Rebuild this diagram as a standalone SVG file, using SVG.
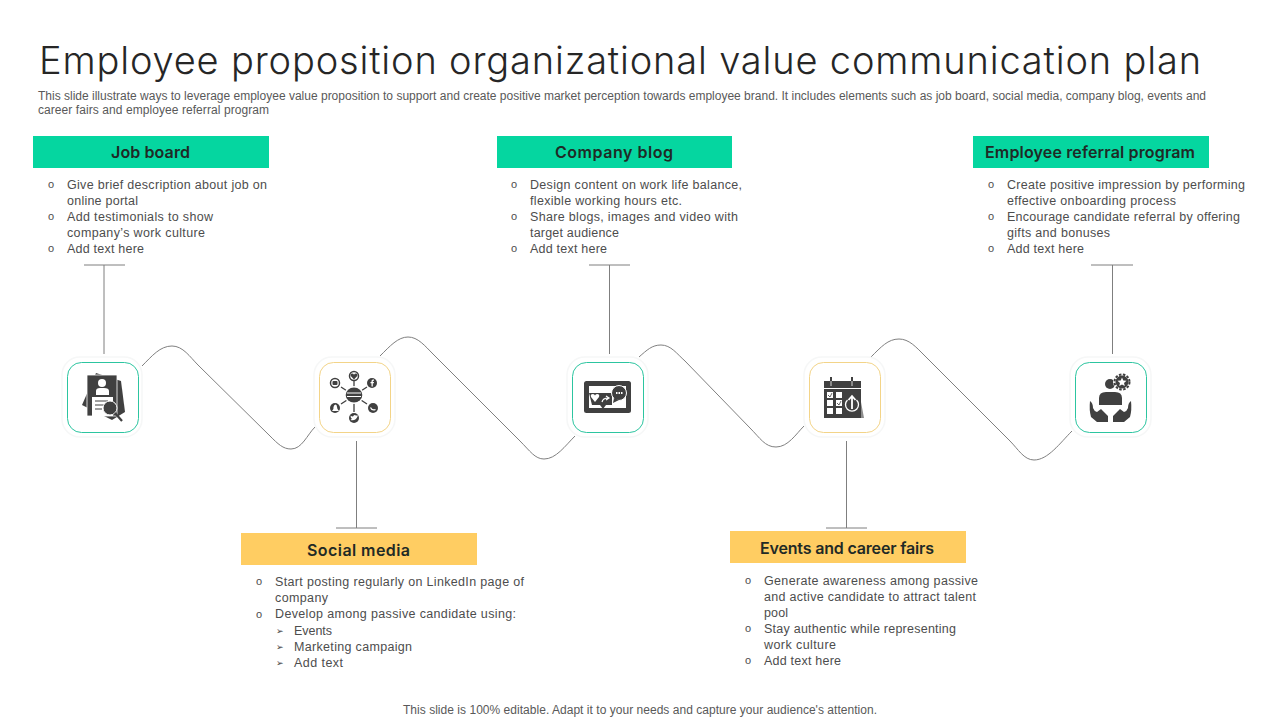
<svg xmlns="http://www.w3.org/2000/svg" width="1280" height="720" viewBox="0 0 1280 720">
<style>
text{font-family:"Liberation Sans",Arial,sans-serif}
.title{font-family:"Inter","Noto Sans",sans-serif;font-size:38px;font-weight:300;fill:#262626}
.sub{font-size:12px;fill:#595959}
.hd{font-family:"Inter","Open Sans",sans-serif;font-size:16px;font-weight:600;fill:#1f2a26}
.t{font-size:12.500px;fill:#4d4d4d}
.b{font-size:11px;fill:#4d4d4d}
.a{font-family:"DejaVu Sans",sans-serif;font-size:9px;fill:#404040}
.foot{font-size:12px;fill:#595959}
.line{fill:none;stroke:#7f7f7f;stroke-width:1}
.curve{fill:none;stroke:#808080;stroke-width:1}
.halo{fill:#fff;stroke:#f6f7f7;stroke-width:1.500}
.g{fill:#fff;stroke:#2cc5a0;stroke-width:1}
.y{fill:#fff;stroke:#f3d488;stroke-width:1}
.d{fill:#404040}
.w{fill:#fff}
.sw{fill:none;stroke:#fff;stroke-width:1.200}
</style>
<rect width="1280" height="720" fill="#fff"/>
<g id="heading">
<text class="title" x="39" y="74" textLength="1162" lengthAdjust="spacing">Employee proposition organizational value communication plan</text>
<text class="sub" x="38" y="100" textLength="1168" lengthAdjust="spacing">This slide illustrate ways to leverage employee value proposition to support and create positive market perception towards employee brand. It includes elements such as job board, social media, company blog, events and</text>
<text class="sub" x="38" y="114" textLength="231" lengthAdjust="spacing">career fairs and employee referral program</text>
</g>
<g id="connectors">
<path class="curve" d="M142 366C152 356 160 346 172 346C183 346 190 357 198 365L270 436C278 444 283 449 291 449C302 449 307 435 315 427"/>
<path class="curve" d="M380 356C390 346 398 337 408 337C418 337 425 346 433 354L520 441C530 451 535 459 544 459C556 459 565 446 575 436"/>
<path class="curve" d="M639 357C647 350 652 345 661 345C671 345 677 354 685 361L750 428C760 438 765 447 776 447C788 447 796 434 804 426"/>
<path class="curve" d="M871 357C881 347 888 339 899 339C909 339 916 347 924 355L1010 441C1018 449 1024 460 1034 460C1048 460 1060 443 1072 431"/>
<path class="line" d="M104 265V354M84 265H125"/>
<path class="line" d="M356.500 441V528M336 528H377"/>
<path class="line" d="M609.500 265V354M589 265H630"/>
<path class="line" d="M846.500 441V528M826 528H867"/>
<path class="line" d="M1112.500 265V354M1091 265H1133"/>
</g>
<g id="node-job-board">
<rect x="33" y="136" width="236" height="32" fill="#05d6a0"/>
<text class="hd" x="111" y="158" textLength="79" lengthAdjust="spacing">Job board</text>
<text class="b" x="48" y="188">o</text><text class="t" x="67" y="189" textLength="200" lengthAdjust="spacing">Give brief description about job on</text>
<text class="t" x="67" y="205" textLength="71" lengthAdjust="spacing">online portal</text>
<text class="b" x="48" y="220">o</text><text class="t" x="67" y="221" textLength="146" lengthAdjust="spacing">Add testimonials to show</text>
<text class="t" x="67" y="237" textLength="138" lengthAdjust="spacing">company’s work culture</text>
<text class="b" x="48" y="252">o</text><text class="t" x="67" y="253" textLength="77" lengthAdjust="spacing">Add text here</text>
<rect class="halo" x="62" y="357" width="80" height="80" rx="18"/>
<rect class="g" x="67.500" y="362.500" width="71" height="70" rx="14"/>
<path class="d" d="M96 373L121 381L125 412L112 420L82 405Z"/>
<rect x="87" y="375" width="30" height="41" fill="#404040" stroke="#fff" stroke-width=".8"/>
<circle class="w" cx="102" cy="383" r="4"/>
<path class="w" d="M96 395V391Q96 388 100 388H104Q109 388 109 391V395Z"/>
<rect class="w" x="92" y="397" width="21" height="19"/>
<path d="M95 401H108M95 405H104M95 409H102" stroke="#404040" stroke-width="1"/>
<circle class="d" cx="110" cy="408" r="7" stroke="#fff" stroke-width="1"/>
<path d="M115 413L122 421" stroke="#404040" stroke-width="2.200"/>
</g>
<g id="node-social-media">
<rect x="241" y="533" width="236" height="32" fill="#ffcd62"/>
<text class="hd" x="307" y="556" textLength="103" lengthAdjust="spacing">Social media</text>
<text class="b" x="256" y="585">o</text><text class="t" x="275" y="586" textLength="249" lengthAdjust="spacing">Start posting regularly on LinkedIn page of</text>
<text class="t" x="275" y="602" textLength="53" lengthAdjust="spacing">company</text>
<text class="b" x="256" y="618">o</text><text class="t" x="275" y="618" textLength="241" lengthAdjust="spacing">Develop among passive candidate using:</text>
<text class="a" x="276" y="634">➢</text><text class="t" x="294" y="635" textLength="38" lengthAdjust="spacing">Events</text>
<text class="a" x="276" y="650">➢</text><text class="t" x="294" y="651" textLength="118" lengthAdjust="spacing">Marketing campaign</text>
<text class="a" x="276" y="666">➢</text><text class="t" x="294" y="667" textLength="49" lengthAdjust="spacing">Add text</text>
<rect class="halo" x="314" y="357" width="81" height="80" rx="18"/>
<rect class="y" x="319.500" y="362.500" width="71" height="70" rx="14"/>
<path d="M354 380V412M341 387L367 404M367 387L341 404" stroke="#404040" stroke-width="1.300"/>
<ellipse cx="354" cy="395" rx="10" ry="9" fill="#fff"/>
<ellipse class="d" cx="354" cy="395" rx="8.300" ry="7.500"/>
<path d="M347 393H361M347 396.500H361" stroke="#fff" stroke-width="1"/>
<circle class="w" cx="354" cy="376" r="4.500" stroke="#404040" stroke-width="1.500"/>
<path class="d" d="M354 379.500L350.800 376Q350 373.800 352 373.500Q353.500 373.500 354 374.800Q354.500 373.500 356 373.500Q358 373.800 357.200 376Z"/>
<circle class="d" cx="372" cy="383" r="5"/><path class="w" d="M371.500 386.500V383.300H370.500V382H371.500V381Q371.500 379.500 373 379.500H374V380.800H373.300Q372.800 380.800 372.800 381.300V382H374L373.800 383.300H372.800V386.500Z"/>
<circle class="d" cx="373" cy="408" r="5"/><path class="sw" d="M370.500 407.500Q372 411 375.500 409.500"/>
<circle class="d" cx="354" cy="418" r="5"/><path class="w" d="M350.500 420Q356 421 357.500 416.500L358 415.500H356Q354 414 353 416.500Q351.500 416.500 350.500 415.500Q350.500 418 352 418.800Z"/>
<circle class="d" cx="335" cy="408" r="5"/><path class="w" d="M332 411Q334 409.500 333.500 407Q334 404.500 335.500 404.500Q337 404.500 337 407Q337 409.500 339 411Z"/>
<circle class="w" cx="335" cy="383" r="4.500" stroke="#404040" stroke-width="1.500"/>
<rect class="d" x="332.500" y="381" width="5" height="4" rx="1"/>
</g>
<g id="node-company-blog">
<rect x="497" y="136" width="235" height="32" fill="#05d6a0"/>
<text class="hd" x="555" y="158" textLength="118" lengthAdjust="spacing">Company blog</text>
<text class="b" x="511" y="188">o</text><text class="t" x="530" y="189" textLength="212" lengthAdjust="spacing">Design content on work life balance,</text>
<text class="t" x="530" y="205" textLength="152" lengthAdjust="spacing">flexible working hours etc.</text>
<text class="b" x="511" y="220">o</text><text class="t" x="530" y="221" textLength="208" lengthAdjust="spacing">Share blogs, images and video with</text>
<text class="t" x="530" y="237" textLength="89" lengthAdjust="spacing">target audience</text>
<text class="b" x="511" y="252">o</text><text class="t" x="530" y="253" textLength="77" lengthAdjust="spacing">Add text here</text>
<rect class="halo" x="567" y="357" width="81" height="80" rx="18"/>
<rect class="g" x="572.500" y="362.500" width="71" height="70" rx="14"/>
<rect class="d" x="584" y="381" width="47" height="32" rx="2.500"/>
<rect class="w" x="589" y="386" width="37" height="22"/>
<path class="d" d="M589 393H612V405H606L603 409L600 405H592Z"/>
<path class="w" d="M595 402L591 397Q590 394 593 394Q594.500 394 595 395.500Q595.500 394 597 394Q600 394 599 397Z"/>
<path class="sw" d="M602 402Q603 398 608 398M606 396L609 398L606 400"/>
<circle class="d" cx="619" cy="393" r="7.500" stroke="#fff" stroke-width="1"/>
<path class="d" d="M614 398L613 403L619 400Z"/>
<path d="M616 393H622.500" stroke="#fff" stroke-width="1.800" stroke-dasharray="1.500 1"/>
</g>
<g id="node-events">
<rect x="730" y="531" width="236" height="32" fill="#ffcd62"/>
<text class="hd" x="760" y="554" textLength="174" lengthAdjust="spacing">Events and career fairs</text>
<text class="b" x="745" y="584">o</text><text class="t" x="764" y="585" textLength="214" lengthAdjust="spacing">Generate awareness among passive</text>
<text class="t" x="764" y="601" textLength="212" lengthAdjust="spacing">and active candidate to attract talent</text>
<text class="t" x="764" y="617" textLength="24" lengthAdjust="spacing">pool</text>
<text class="b" x="745" y="632">o</text><text class="t" x="764" y="633" textLength="192" lengthAdjust="spacing">Stay authentic while representing</text>
<text class="t" x="764" y="649" textLength="72" lengthAdjust="spacing">work culture</text>
<text class="b" x="745" y="664">o</text><text class="t" x="764" y="665" textLength="77" lengthAdjust="spacing">Add text here</text>
<rect class="halo" x="804" y="357" width="81" height="80" rx="18"/>
<rect class="y" x="809.500" y="362.500" width="71" height="70" rx="14"/>
<path d="M858 386L864 418H858Z" fill="#8c8c8c"/>
<rect class="d" x="824" y="381" width="37" height="37"/>
<rect class="w" x="824" y="388" width="37" height="1"/>
<path d="M831 377V385M852 377V385" stroke="#404040" stroke-width="2"/>
<path d="M831 381V386M852 381V386" stroke="#fff" stroke-width=".8"/>
<g fill="#fff"><rect x="827" y="392" width="6" height="6"/><rect x="836" y="392" width="6" height="6"/><rect x="827" y="400" width="6" height="6"/><rect x="836" y="400" width="6" height="6"/><rect x="827" y="408" width="6" height="6"/><rect x="836" y="408" width="6" height="6"/></g>
<path d="M828 395L830 397L832 393M837 403L839 405L841 401" fill="none" stroke="#404040" stroke-width=".8"/>
<circle cx="852" cy="404" r="8" class="d"/>
<path d="M847.500 400A6.500 6.500 0 1 0 856.500 400" fill="none" stroke="#fff" stroke-width="1.300"/>
<path d="M852 409V396M848.500 400L852 396L855.500 400" fill="none" stroke="#fff" stroke-width="1.800"/>
</g>
<g id="node-referral">
<rect x="973" y="136" width="236" height="32" fill="#05d6a0"/>
<text class="hd" x="985" y="158" textLength="210" lengthAdjust="spacing">Employee referral program</text>
<text class="b" x="988" y="188">o</text><text class="t" x="1007" y="189" textLength="238" lengthAdjust="spacing">Create positive impression by performing</text>
<text class="t" x="1007" y="205" textLength="169" lengthAdjust="spacing">effective onboarding process</text>
<text class="b" x="988" y="220">o</text><text class="t" x="1007" y="221" textLength="233" lengthAdjust="spacing">Encourage candidate referral by offering</text>
<text class="t" x="1007" y="237" textLength="103" lengthAdjust="spacing">gifts and bonuses</text>
<text class="b" x="988" y="252">o</text><text class="t" x="1007" y="253" textLength="77" lengthAdjust="spacing">Add text here</text>
<rect class="halo" x="1070" y="357" width="81" height="80" rx="18"/>
<rect class="g" x="1075.500" y="362.500" width="71" height="70" rx="14"/>
<circle class="d" cx="1110" cy="384" r="5"/>
<path class="d" d="M1099 405V398Q1099 392 1106 392H1115Q1122 392 1122 398V405Z"/>
<circle cx="1122" cy="382" r="9" fill="#fff"/>
<circle class="d" cx="1122" cy="382" r="6.500"/>
<circle cx="1122" cy="382" r="7.500" fill="none" stroke="#404040" stroke-width="2" stroke-dasharray="2.500 1.500"/>
<path class="w" d="M1122 377.500L1123.300 380.500L1126.500 380.800L1124 383L1124.800 386L1122 384.400L1119.200 386L1120 383L1117.500 380.800L1120.700 380.500Z"/>
<path class="d" d="M1090 401Q1093 403 1093 408Q1094 411 1097 412L1101 409L1108 416V422H1097L1091 417Q1089 410 1090 401Z"/>
<path class="d" d="M1131 401Q1128 403 1128 408Q1127 411 1124 412L1120 409L1113 416V422H1124L1130 417Q1132 410 1131 401Z"/>
</g>
<g id="footer">
<text class="foot" x="403" y="714" textLength="474" lengthAdjust="spacing">This slide is 100% editable. Adapt it to your needs and capture your audience's attention.</text>
</g>
</svg>
